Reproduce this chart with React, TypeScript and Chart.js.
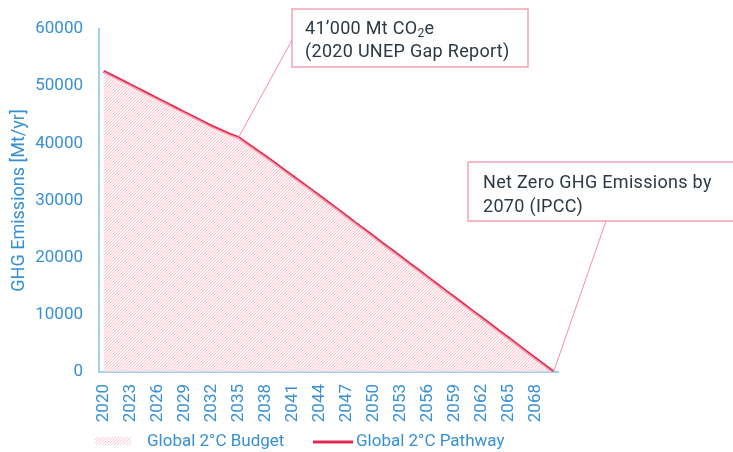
import React, { useEffect, useRef } from "react";
import { Chart, registerables } from "chart.js";

Chart.register(...registerables);

const years: string[] = [
  "2020","2021","2022","2023","2024","2025","2026","2027","2028","2029",
  "2030","2031","2032","2033","2034","2035","2036","2037","2038","2039",
  "2040","2041","2042","2043","2044","2045","2046","2047","2048","2049",
  "2050","2051","2052","2053","2054","2055","2056","2057","2058","2059",
  "2060","2061","2062","2063","2064","2065","2066","2067","2068","2069",
  "2070",
];

const pathway: number[] = [
  52600, 51800, 51000, 50200, 49400, 48600, 47800, 47000, 46200, 45400,
  44600, 43800, 43000, 42300, 41600, 41000, 39900, 38800, 37700, 36550,
  35400, 34250, 33100, 31950, 30800, 29600, 28450, 27250, 26050, 24900,
  23700, 22500, 21350, 20150, 18950, 17800, 16600, 15400, 14200, 13050,
  11850, 10650, 9500, 8300, 7100, 5950, 4750, 3550, 2350, 1200,
  0,
];

const budget: number[] = pathway.slice();

const yTicks: number[] = [0, 10000, 20000, 30000, 40000, 50000, 60000];

const seriesNames: string[] = ["Global 2°C Budget", "Global 2°C Pathway"];
const note1: string[] = ["41’000 Mt CO", "2", "e", "(2020 UNEP Gap Report)"];
const note1Year = "2035";
const note2: string[] = ["Net Zero GHG Emissions by", "2070 (IPCC)"];
const note2Year = "2070";

const BLUE = "#3690d4";
const RED = "#e0284f";
const PINK_BORDER = "#f3a3b5";
const HATCH = "rgba(244,150,172,0.5)";
const FONT = "Roboto, 'Noto Sans', sans-serif";

function hatch(ctx: CanvasRenderingContext2D, x0: number, y0: number, x1: number, y1: number) {
  ctx.strokeStyle = HATCH;
  ctx.lineWidth = 1;
  ctx.beginPath();
  const h = y1 - y0;
  for (let c = x0 - h; c < x1 + 4; c += 3) {
    ctx.moveTo(c, y1);
    ctx.lineTo(c + h, y0);
  }
  ctx.stroke();
}

export default function App() {
  const ref = useRef<HTMLCanvasElement | null>(null);

  useEffect(() => {
    if (!ref.current) return;

    const overlay = {
      id: "overlay",
      afterDatasetDraw(chart: any, args: any) {
        if (args.index !== 0) return;
        const ctx = chart.ctx as CanvasRenderingContext2D;
        const meta = chart.getDatasetMeta(0);
        const pts = meta.data;
        const base = chart.scales.y.getPixelForValue(0);
        ctx.save();
        ctx.beginPath();
        ctx.moveTo(pts[0].x, base);
        for (const p of pts) ctx.lineTo(p.x, p.y);
        ctx.lineTo(pts[pts.length - 1].x, base);
        ctx.closePath();
        ctx.clip();
        const a = chart.chartArea;
        hatch(ctx, a.left, a.top, a.right, a.bottom);
        ctx.restore();
      },
      afterDraw(chart: any) {
        const ctx = chart.ctx as CanvasRenderingContext2D;
        const xs = chart.scales.x;
        const ys = chart.scales.y;
        ctx.save();
        const anyCtx = ctx as any;

        // Annotation 1
        const i1 = years.indexOf(note1Year);
        const p1x = xs.getPixelForValue(i1);
        const p1y = ys.getPixelForValue(pathway[i1]);
        const b1 = { x: 292, y: 9, w: 236, h: 58 };
        ctx.strokeStyle = "#f38ea4";
        ctx.lineWidth = 1;
        ctx.beginPath();
        ctx.moveTo(b1.x, b1.y + 31);
        ctx.lineTo(p1x, p1y);
        ctx.stroke();
        ctx.fillStyle = "#ffffff";
        ctx.fillRect(b1.x, b1.y, b1.w, b1.h);
        ctx.strokeStyle = PINK_BORDER;
        ctx.lineWidth = 1.5;
        ctx.strokeRect(b1.x, b1.y, b1.w, b1.h);

        ctx.fillStyle = "#2c3944";
        ctx.textBaseline = "alphabetic";
        ctx.textAlign = "left";
        anyCtx.letterSpacing = "0.3px";
        ctx.font = `18px ${FONT}`;
        let tx = 305;
        ctx.fillText(note1[0], tx, 34);
        tx += ctx.measureText(note1[0]).width;
        ctx.font = `12px ${FONT}`;
        ctx.fillText(note1[1], tx, 37);
        tx += ctx.measureText(note1[1]).width;
        ctx.font = `18px ${FONT}`;
        ctx.fillText(note1[2], tx, 34);
        ctx.fillText(note1[3], 305, 57);

        // Annotation 2
        const i2 = years.indexOf(note2Year);
        const p2x = xs.getPixelForValue(i2);
        const p2y = ys.getPixelForValue(pathway[i2]);
        const b2 = { x: 468, y: 162, w: 280, h: 59 };
        ctx.strokeStyle = "#f38ea4";
        ctx.lineWidth = 1;
        ctx.beginPath();
        ctx.moveTo(606, b2.y + b2.h);
        ctx.lineTo(p2x, p2y);
        ctx.stroke();
        ctx.fillStyle = "#ffffff";
        ctx.fillRect(b2.x, b2.y, b2.w, b2.h);
        ctx.strokeStyle = PINK_BORDER;
        ctx.lineWidth = 1.5;
        ctx.strokeRect(b2.x, b2.y, b2.w, b2.h);
        ctx.fillStyle = "#2c3944";
        ctx.font = `18px ${FONT}`;
        ctx.fillText(note2[0], 483, 188);
        ctx.fillText(note2[1], 483, 212);
        anyCtx.letterSpacing = "0px";

        // Legend
        ctx.save();
        ctx.beginPath();
        ctx.rect(95, 437, 36, 8);
        ctx.clip();
        hatch(ctx, 95, 437, 131, 445);
        ctx.restore();
        ctx.strokeStyle = RED;
        ctx.lineWidth = 3;
        ctx.beginPath();
        ctx.moveTo(313, 442);
        ctx.lineTo(353, 442);
        ctx.stroke();
        ctx.fillStyle = BLUE;
        ctx.font = `17px ${FONT}`;
        ctx.textBaseline = "middle";
        ctx.fillText(seriesNames[0], 147, 442);
        ctx.fillText(seriesNames[1], 356, 442);

        ctx.restore();
      },
    };

    const chart = new Chart(ref.current, {
      type: "line",
      data: {
        labels: years,
        datasets: [
          {
            label: seriesNames[0],
            data: budget,
            fill: "origin",
            backgroundColor: "rgba(253,236,240,0.6)",
            borderWidth: 0,
            borderColor: "rgba(0,0,0,0)",
            pointRadius: 0,
            tension: 0,
          },
          {
            label: seriesNames[1],
            data: pathway,
            fill: false,
            borderColor: RED,
            borderWidth: 3,
            pointRadius: 0,
            tension: 0,
          },
        ],
      },
      options: {
        responsive: false,
        animation: false,
        events: [],
        layout: { padding: { left: 0, top: 29, right: 175, bottom: 30 } },
        plugins: {
          legend: { display: false },
          tooltip: { enabled: false },
        },
        scales: {
          x: {
            offset: true,
            grid: { display: false, drawTicks: false },
            border: { display: true, color: "#9fd2f2", width: 2 },
            afterFit: (s: any) => {
              s.height = 50;
            },
            ticks: {
              autoSkip: false,
              minRotation: 90,
              maxRotation: 90,
              padding: 12,
              color: BLUE,
              font: { family: FONT, size: 17 },
              callback: (_v: any, i: number) =>
                (Number(years[i]) - 2020) % 3 === 0 && i < years.length - 1 ? years[i] : null,
            },
          },
          y: {
            min: 0,
            max: 60000,
            afterBuildTicks: (s: any) => {
              s.ticks = yTicks.map((v) => ({ value: v }));
            },
            afterFit: (s: any) => {
              s.width = 99;
            },
            grid: { display: false, drawTicks: false },
            border: { display: true, color: "#9fd2f2", width: 2 },
            title: {
              display: true,
              text: "GHG Emissions [Mt/yr]",
              color: BLUE,
              font: { family: FONT, size: 18 },
              padding: { top: 9, bottom: 4 },
            },
            ticks: {
              padding: 16,
              color: BLUE,
              font: { family: FONT, size: 17 },
              callback: (v: any) => String(v),
            },
          },
        },
      },
      plugins: [overlay],
    });

    return () => chart.destroy();
  }, []);

  return (
    <div style={{ position: "fixed", left: 0, top: 0, width: 733, height: 452, background: "#fff" }}>
      <canvas ref={ref} width={733} height={452} />
    </div>
  );
}
